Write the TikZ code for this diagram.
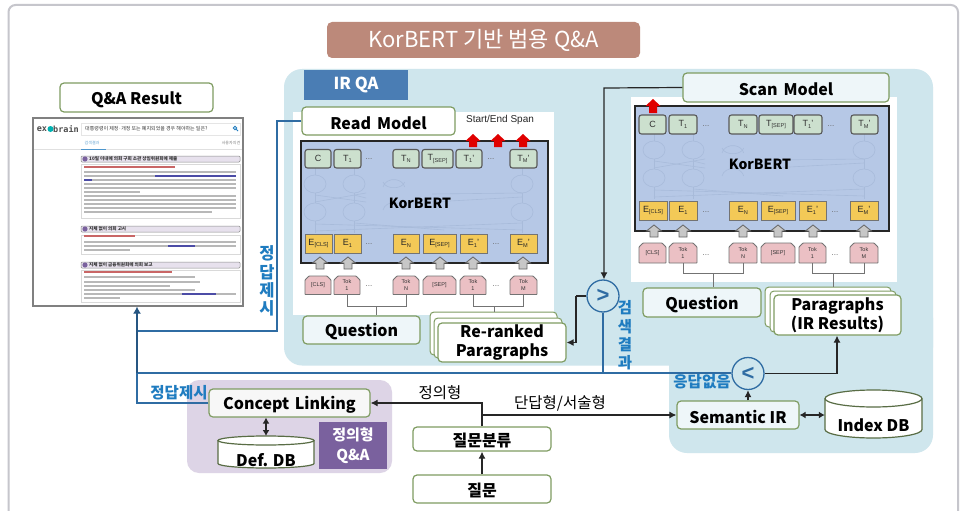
\documentclass[tikz,border=0pt]{standalone}
\usepackage{fontspec}
\setmainfont{Liberation Sans}
\newfontfamily\kr{Noto Sans CJK KR}
\newfontfamily\monob{DejaVu Sans Mono}
\usetikzlibrary{arrows.meta,shapes.geometric,calc}
\definecolor{grn}{HTML}{7F9C62}
\definecolor{irbg}{HTML}{CFE6ED}
\definecolor{purbg}{HTML}{DDD4E6}
\definecolor{purtag}{HTML}{7A619E}
\definecolor{irtag}{HTML}{4A7DB4}
\definecolor{bertbg}{HTML}{B6C8E6}
\definecolor{tfill}{HTML}{CCE0CE}
\definecolor{efill}{HTML}{F3C957}
\definecolor{tokf}{HTML}{EBC0C4}
\definecolor{wire}{HTML}{2F6CA3}
\definecolor{lab}{HTML}{1F7CC0}
\definecolor{frame}{HTML}{C6C6CC}
\definecolor{titlec}{HTML}{BC897A}
\definecolor{faint}{HTML}{A8BBDA}
\tikzset{
  gbox/.style={draw=grn,line width=1.2pt,rounded corners=4pt,fill=white,font=\kr\bfseries\fontsize{16}{19.5}\selectfont,text=black,align=center,inner sep=0pt,execute at begin node={\rule{0pt}{17pt}}},
  lbox/.style={gbox,fill=#1},
  tbox/.style={draw=black!65,line width=1.1pt,rounded corners=2.5pt,fill=tfill,font=\fontsize{9}{9}\selectfont,text=black!80,inner sep=0pt},
  ebox/.style={draw=black!55,line width=.9pt,fill=efill,font=\fontsize{9}{9}\selectfont,text=black!85,inner sep=0pt},
  tokshape/.style={draw=black!55,line width=.9pt,fill=tokf},
  toktext/.style={font=\fontsize{5.5}{7}\selectfont,text=black!80,align=center,inner sep=0pt},
  dots/.style={font=\fontsize{8}{8}\selectfont,text=black!60,inner sep=0pt},
  tokline/.style={draw=black!55,line width=.9pt},
  conn/.style={draw=black!85,line width=1.2pt,-{Latex[length=7pt,width=7pt]}},
  dconn/.style={draw=black!85,line width=1.2pt,{Latex[length=6pt,width=7pt]}-{Latex[length=6pt,width=7pt]}},
  bwire/.style={draw=wire,line width=1.2pt},
  blab/.style={font=\kr\bfseries\fontsize{15.5}{17}\selectfont,text=lab,inner sep=0pt},
  klab/.style={font=\kr\fontsize{15.5}{17}\selectfont,text=black,inner sep=0pt},
  circ/.style={circle,draw=wire,line width=1.3pt,fill=irbg,minimum size=32pt,inner sep=0pt,font=\bfseries\fontsize{22}{22}\selectfont,text=wire},
  dbtext/.style={font=\kr\bfseries\fontsize{16}{19}\selectfont,text=black,inner sep=0pt},
  bert/.style={font=\kr\bfseries\fontsize{14}{17}\selectfont,text=black,inner sep=0pt},
  scrl/.style={line width=1.6pt,draw=black!28},
  scrh/.style={draw=black!45,line width=.5pt,fill=purbg!70,rounded corners=1pt},
  scrt/.style={font=\kr\bfseries\fontsize{4.6}{5}\selectfont,text=black!80,inner sep=0pt,anchor=west},
}
\newcommand{\bx}[7]{% style name x0 y0 x1 y1 text
  \pgfmathsetmacro\bxw{#5-#3}\pgfmathsetmacro\bxh{#6-#4}%
  \pgfmathsetmacro\bxx{(#3+#5)/2}\pgfmathsetmacro\bxy{(#4+#6)/2}%
  \node[#1,minimum width=\bxw pt,minimum height=\bxh pt] (#2) at (\bxx,\bxy) {#7};}
\newcommand{\tokb}[6]{% name x0 y0 x1 y1 text
  \draw[tokshape,rounded corners=.6pt] (#2,#5) -- (#2,#3+4) -- (#2+4,#3) -- (#4-4,#3) -- (#4,#3+4) -- (#4,#5) -- cycle;
  \bx{toktext}{#1}{#2}{#3}{#4}{#5}{#6}}
\newcommand{\cyl}[5]{% x0 y0 x1 y1 ry
  \pgfmathsetmacro\cxr{(#3-#1)/2}%
  \draw[draw=grn!70!black,line width=1.2pt,fill=white] (#1,#2+#5) -- (#1,#4-#5) arc (180:360:\cxr pt and #5 pt) -- (#3,#2+#5);
  \draw[draw=grn!70!black,line width=1.2pt,fill=white] (#1+\cxr,#2+#5) ellipse (\cxr pt and #5 pt);}
\newcommand{\faintnet}[5]{%
  \begin{scope}[draw=faint,line width=.6pt]
    \foreach \xx in {#1,#2,#4}{
      \draw (\xx,#5) ellipse (11 and 9);
      \draw (\xx,#5+28) ellipse (11 and 9);
      \draw (\xx,#5+9) -- (\xx,#5+19);
      \draw (\xx,#5+37) -- (\xx,#5+49);
      \draw (\xx,#5-9) -- (\xx,#5-16);
    }
    \draw (#3-11,#5+3) arc (190:350:11 and 9);
    \draw (#3-11,#5-2) arc (170:10:11 and 7);
    \draw (#3-11,#5+26) arc (190:350:11 and 9);
    \draw (#1,#5+11) -- (#3-28,#5+18);
    \draw (#1,#5+18) -- (#3-28,#5+9);
    \draw (#2,#5+11) -- (#3-28,#5+14);
    \draw (#3+38,#5+10) -- (#4,#5+9);
    \draw (#3+38,#5+18) -- (#4,#5+13);
    \draw (#1,#5+40) -- (#4,#5+46);
    \draw (#1,#5+47) -- (#4,#5+39);
    \draw (#2,#5+39) -- (#3+50,#5+46);
  \end{scope}}
\newcommand{\subs}[1]{\raisebox{-1.6pt}{\fontsize{5.6}{6}\selectfont #1}}
\begin{document}
\begin{tikzpicture}[x=1pt,y=-1pt]
\useasboundingbox (0,0) rectangle (961,511);
\fill[white] (0,0) rectangle (961,511);
% outer frame
\draw[frame,line width=2pt,rounded corners=7pt] (8.5,515) -- (8.5,5) -- (958,5) -- (958,515);
% regions
\fill[irbg,rounded corners=18pt] (284,69) rectangle (933,365.5);
\fill[irbg,rounded corners=18pt] (669,300) rectangle (933,453);
\fill[purbg,rounded corners=12pt] (187,380) rectangle (392,473);
\fill[white] (293,112) rectangle (554,315);
\fill[white] (631,97) rectangle (897,282);
% title
\bx{fill=titlec,rounded corners=5pt,text=white,font=\kr\fontsize{22}{26}\selectfont,inner sep=0pt}{title}{327}{22}{640}{58}{KorBERT 기반 범용 Q\&A}
\bx{fill=irtag,text=white,font=\kr\bfseries\fontsize{16.5}{19}\selectfont,inner sep=0pt}{irqa}{304}{70}{408}{100}{IR QA}
% ---- read panel
\bx{draw=black!85,line width=1.4pt,fill=bertbg,inner sep=0pt}{rbert}{301}{141}{548}{263}{}
\faintnet{315}{354}{394}{522}{184}
\node[bert] (rkor) at (420,203) {KorBERT};
\foreach \n/\a/\b/\t in {c/305/331/C,t1/334/361/T\subs{1},tn/393/419/T\subs{N},ts/422/453/T\subs{[SEP]},tp/456/482/T\subs{1}',tm/510/537/T\subs{M}'}
  {\bx{tbox}{r\n}{\a}{149.5}{\b}{168}{\t}}
\foreach \n/\a/\b/\t in {c/305/332/E\subs{[CLS]},t1/334/361/E\subs{1},tn/393/419/E\subs{N},ts/423/456/E\subs{[SEP]},tp/460/487/E\subs{1}',tm/510/537/E\subs{M}'}
  {\bx{ebox}{re\n}{\a}{234}{\b}{253}{\t}}
\foreach \n/\a/\b/\t in {c/305/331/[CLS],t1/334/360/Tok\\1,tn/393/419/Tok\\N,ts/423/456/[SEP],tp/460/486/Tok\\1,tm/510/537/Tok\\M}
  {\tokb{rk\n}{\a}{276}{\b}{294.5}{\t}}
\foreach \i/\x/\y in {a/369/159,b/491/159,c/369/244,d/496/244,e/369/286,f/496/286}
  {\node[dots] (rd\i) at (\x,\y) {...};}
\foreach \x in {320,348,406,440,473,523}
  {\draw[draw=black!60,fill=black!22,line width=.8pt] (\x-7.5,263) -- (\x,257) -- (\x+7.5,263) -- (\x+4,263) -- (\x+4,269) -- (\x-4,269) -- (\x-4,263) -- cycle;}
\foreach \x in {473,498,523}
  {\fill[red!88!black] (\x-7.5,141) -- (\x,134) -- (\x+7.5,141) -- (\x+4,141) -- (\x+4,147) -- (\x-4,147) -- (\x-4,141) -- cycle;}
\node[font=\fontsize{10}{12}\selectfont,text=black!85,inner sep=0pt] (span) at (500,120) {Start/End Span};
\bx{gbox}{rm}{302}{107}{455}{135}{Read\hspace{.15em} Model}
\bx{lbox=irbg!35!white}{rq}{303}{316}{420}{344}{Question}
\bx{gbox,line width=1pt}{rp1}{430}{312}{557}{355}{}
\bx{gbox,line width=1pt}{rp2}{434}{318}{562}{358}{}
\bx{gbox}{rp3}{438}{323}{566}{362}{Re-ranked\\Paragraphs}
\coordinate (rmidq) at ($(rkt1.south)!.5!(rktn.south)+(0,12)$);
\coordinate (rmidp) at ($(rktp.south)!.42!(rktm.south)+(0,12)$);
\draw[tokline] (rkt1.south) |- (rmidq) -| (rktn.south);
\draw[tokline] (rmidq) -- (rmidq |- rq.north);
\draw[tokline] (rktp.south) |- (rmidp) -| (rktm.south);
\draw[tokline] (rmidp) -- (rmidp |- rp1.north);
% ---- scan panel
\bx{draw=black!85,line width=1.4pt,fill=bertbg,inner sep=0pt}{sbert}{635}{106}{889}{231}{}
\faintnet{654}{693}{733}{864}{150}
\node[bert] (skor) at (760,164) {KorBERT};
\foreach \n/\a/\b/\t in {c/639/666/C,t1/669/697/T\subs{1},tn/729/757/T\subs{N},ts/759/793/T\subs{[SEP]},tp/794/822/T\subs{1}',tm/851/878/T\subs{M}'}
  {\bx{tbox}{s\n}{\a}{115}{\b}{134}{\t}}
\foreach \n/\a/\b/\t in {c/639/667/E\subs{[CLS]},t1/669/697/E\subs{1},tn/729/757/E\subs{N},ts/761/795/E\subs{[SEP]},tp/799/826/E\subs{1}',tm/850/878/E\subs{M}'}
  {\bx{ebox}{se\n}{\a}{201}{\b}{220}{\t}}
\foreach \n/\a/\b/\t in {c/639/666/[CLS],t1/669/697/Tok\\1,tn/729/757/Tok\\N,ts/761/795/[SEP],tp/799/826/Tok\\1,tm/850/878/Tok\\M}
  {\tokb{sk\n}{\a}{243}{\b}{263}{\t}}
\foreach \i/\x/\y in {a/706/126,b/831/126,c/706/212,d/835/212,e/706/255,f/835/255}
  {\node[dots] (sd\i) at (\x,\y) {...};}
\foreach \x in {654,683,743,778,813,864}
  {\draw[draw=black!60,fill=black!22,line width=.8pt] (\x-7.5,231) -- (\x,225) -- (\x+7.5,231) -- (\x+4,231) -- (\x+4,237) -- (\x-4,237) -- (\x-4,231) -- cycle;}
\fill[red!88!black] (645.5,106) -- (653,99) -- (660.5,106) -- (657,106) -- (657,113) -- (649,113) -- (649,106) -- cycle;
\bx{lbox=irbg!35!white}{sm}{683}{73}{889}{102}{Scan\hspace{.15em} Model}
\bx{lbox=irbg!35!white}{sq}{643}{288}{761}{317}{Question}
\bx{gbox,line width=1pt}{sp1}{765}{287}{891}{327}{}
\bx{gbox,line width=1pt}{sp2}{770}{291}{896}{332}{}
\bx{gbox}{sp3}{774}{295}{901}{335}{Paragraphs\\(IR Results)}
\coordinate (smidq) at ($(skt1.south)!.5!(sktn.south)+(0,10)$);
\coordinate (smidp) at ($(sktp.south)!.41!(sktm.south)+(0,10)$);
\draw[tokline] (skt1.south) |- (smidq) -| (sktn.south);
\draw[tokline] (smidq) -- (smidq |- sq.north);
\draw[tokline] (sktp.south) |- (smidp) -| (sktm.south);
\draw[tokline] (smidp) -- (smidp |- sp1.north);
% ---- screenshot
\bx{lbox=white,draw=grn}{qar}{60}{83}{213}{112}{Q\&A Result}
\bx{draw=black!50,line width=1.3pt,fill=white}{scr}{33}{118}{243}{306}{}
\node[font=\monob\bfseries\fontsize{8.5}{9}\selectfont,text=black!70,inner sep=0pt] (exb) at (42,129) {ex};
\node[circle,fill=teal!60!cyan,minimum size=6pt,inner sep=0pt] (logo) at (50.5,129) {};
\node[font=\monob\bfseries\fontsize{8.5}{9}\selectfont,text=black!70,inner sep=0pt] (brn) at (66,129) {brain};
\bx{draw=black!10,line width=.5pt,fill=white}{srch}{81}{123}{240}{135}{}
\node[scrt,font=\kr\fontsize{5}{6}\selectfont] (stx) at (85,129) {대통령령이 제정·개정 또는 폐지되었을 경우 해야하는 일은?};
\draw[lab,line width=.8pt] (235,128) circle (1.8);
\draw[lab,line width=.9pt] (236.3,129.3) -- (238,131);
\node[font=\kr\fontsize{4}{5}\selectfont,text=lab!70,inner sep=0pt] (tab1) at (92,143) {검색결과};
\node[font=\kr\fontsize{4}{5}\selectfont,text=black!50,inner sep=0pt] (tab2) at (231,143) {사용자의견};
\draw[black!12,line width=.5pt] (34,149) -- (242,149);
\draw[lab!80,line width=1pt] (81,149) -- (106,149);
\foreach \a/\b in {164/218,235/254,270/302}
  {\draw[black!15,line width=.5pt] (81,\a) rectangle (240,\b);}
\foreach \a/\b/\t in {156/162/10일 이내에 의회 구회 소관 상임위원회에 제출,226/232/지체 없이 의회 고시,262/268/지체 없이 금융위원회에 의회 보고}{
  \draw[scrh] (81,\a) rectangle (240,\b);
  \fill[purtag] (85,\a+3) circle (2.6);
  \node[scrt] at (89,\a+3) {\t};
}
\foreach \y/\e in {167/175,236/135,272/172}
  {\draw[line width=1.4pt,draw=red!65!black!60] (84,\y) -- (\e,\y);}
\foreach \y/\e in {172/236,176/236,180/236,184/236,188/236,192/140,196/236,200/236,204/236,208/236,212/212,242/236,246/236,250/130,277/195,282/200,286/170,290/195,294/236,298/120}
  {\draw[scrl] (84,\y) -- (\e,\y);}
\foreach \y/\a/\b in {176/155/236,180/84/92,246/168/195,294/182/216}
  {\draw[line width=1.4pt,draw=blue!50!black!70] (\a,\y) -- (\b,\y);}
% ---- bottom nodes
\bx{lbox=black!3}{cl}{209}{389}{370}{417}{Concept\hspace{.12em} Linking}
\cyl{218}{436}{314}{468}{4.5}
\bx{dbtext}{defdb}{218}{446}{314}{474}{Def. DB}
\coordinate (dbtop) at (266,436);
\bx{fill=purtag,text=white,font=\kr\bfseries\fontsize{15}{20}\selectfont,align=center,inner sep=0pt}{qa}{319}{422}{387}{469}{정의형\\Q\&A}
\bx{gbox}{qc}{413}{427}{551}{451}{질문분류}
\bx{gbox}{qq}{413}{475}{551}{503}{질문}
\bx{lbox=irbg!35!white}{sir}{677}{401}{799}{429}{Semantic IR}
\cyl{825}{390}{922}{438}{8.5}
\bx{dbtext}{idx}{825}{410}{922}{440}{Index DB}
\node[circ] (gt) at (603,296) {>};
\node[circ] (lt) at (748,373.5) {<};
% ---- wires
\coordinate (jr) at (277,331);
\coordinate (jq) at (137,331);
\coordinate (jl) at (137,373);
\coordinate (jc) at (603,373);
\coordinate (gl) at (576,296);
\coordinate (jsm) at (604,88);
\coordinate (jqc) at (482,403);
\coordinate (jqs) at (482,415);
\draw[bwire] (rm.west) -| (jr) -- (jq);
\draw[bwire] (cl.west) -| (jl);
\draw[bwire] (jl) -- (lt.west |- jl);
\draw[bwire] (gt.south) -- (jc);
\draw[bwire,draw=wire!80!black,-{Latex[length=7pt,width=8pt]}] (jl) -- (jl |- scr.south);
\draw[conn] (sm.west) -- (jsm) -- (gt.north -| jsm);
\draw[draw=black!85,line width=1.2pt] (gt.west) -- (gl);
\draw[conn] (gl) |- (rp3.east);
\draw[conn] (lt.east) -| (sp3.south -| 837,0);
\draw[conn] (sir.north -| lt) -- (lt.south);
\draw[dconn] (sir.east) -- (sir.east -| idx.west);
\draw[dconn] (cl.south -| dbtop) -- (dbtop);
\draw[conn] (qc.north -| jqc) -- (jqc) -- (cl.east |- jqc);
\draw[conn] (jqs) -- (sir.west |- jqs);
\draw[conn] (qq.north) -- (qc.south);
% ---- labels
\foreach \i/\t/\y in {a/정/253,b/답/272,c/제/290,d/시/308}
  {\node[blab,font=\kr\bfseries\fontsize{16.5}{18}\selectfont] (la\i) at (267,\y) {\t};}
\foreach \i/\t/\y in {a/검/308,b/색/327,c/결/345,d/과/363}
  {\node[blab,font=\kr\bfseries\fontsize{15.5}{18}\selectfont] (lb\i) at (625,\y) {\t};}
\node[blab] (l1) at (179,393) {정답제시};
\node[blab] (l2) at (702,382) {응답없음};
\node[klab] (l3) at (440,393) {정의형};
\node[klab] (l4) at (560,403) {단답형/서술형};
\end{tikzpicture}
\end{document}
